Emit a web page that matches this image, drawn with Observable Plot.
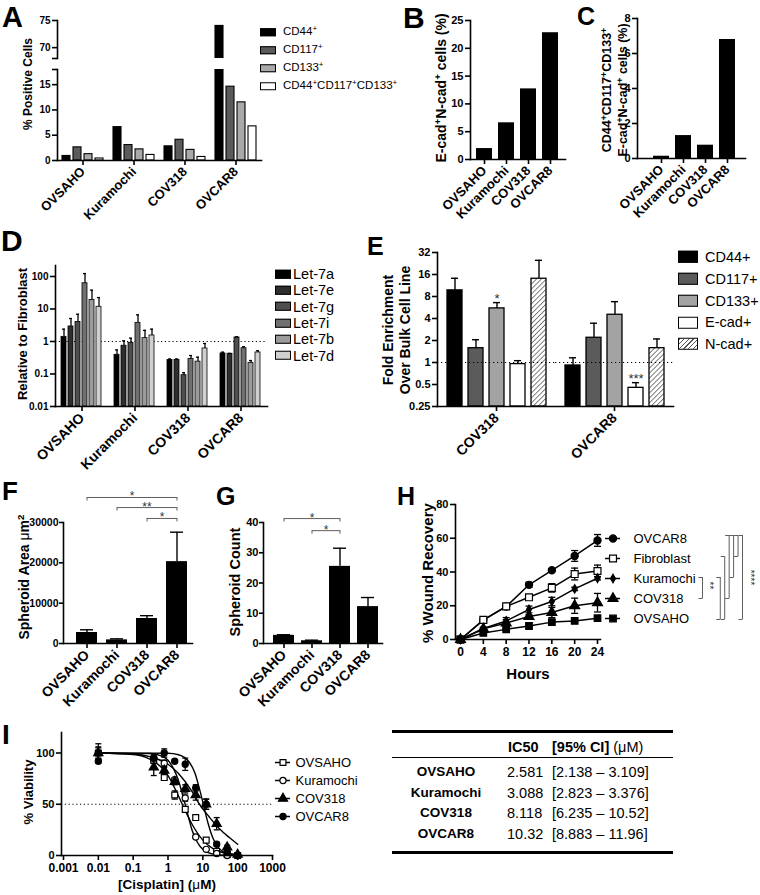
<!DOCTYPE html>
<html>
<head>
<meta charset="utf-8">
<title>Figure</title>
<script src="https://cdn.jsdelivr.net/npm/d3@7"></script>
<script src="https://cdn.jsdelivr.net/npm/@observablehq/plot@0.6"></script>
<style>
  html, body { margin: 0; padding: 0; background: #fff; }
  #fig { position: relative; width: 760px; height: 895px; overflow: hidden; background: #fff;
         font-family: "Liberation Sans", Arial, Helvetica, sans-serif; color: #000; }
  .letter { position: absolute; font-weight: bold; line-height: 1; }
  .ylab { position: absolute; font-weight: bold; white-space: nowrap; text-align: center;
          transform: translate(-50%, -50%) rotate(-90deg); }
  .xlab { position: absolute; font-weight: bold; white-space: nowrap; transform: translate(-50%, -50%); line-height: 1; }
  .legrow { position: absolute; display: flex; align-items: center; white-space: nowrap; transform: translateY(-50%); line-height: 1; }
  .sw { display: inline-block; box-sizing: border-box; border: 1.3px solid #000; flex: none; }
  .sup { font-size: 0.7em; position: relative; top: -0.5em; }
  .rule { position: absolute; background: #000; }
  .cell { position: absolute; white-space: nowrap; transform: translateY(-50%); line-height: 1; }
</style>
</head>
<body>
<svg width="0" height="0" style="position:absolute;left:0;top:0">
  <defs>
    <pattern id="hatch" patternUnits="userSpaceOnUse" width="3.5" height="3.5" patternTransform="rotate(45)">
      <rect width="3.5" height="3.5" fill="#fff"></rect>
      <line x1="0" y1="0" x2="0" y2="3.5" stroke="#555" stroke-width="1.5"></line>
    </pattern>
  </defs>
</svg>
<div id="fig"></div>
<script>
// ================= DATA =================
const cellLines = ["OVSAHO", "Kuramochi", "COV318", "OVCAR8"];

// Panel A
const markersA = ["CD44+", "CD117+", "CD133+", "CD44+CD117+CD133+"];
const cd44A   = [0.9, 6.6, 2.8, 74.0];
const cd117A  = [2.6, 3.05, 4.1, 14.6];
const cd133A  = [1.25, 2.2, 2.1, 11.5];
const tripleA = [0.4, 1.1, 0.7, 6.75];
const ticksALow = [0, 5, 10, 15];
const ticksAHigh = [70, 75];
const domainALow = [0, 18];
const domainAHigh = [68, 75];

// Panel B
const ecadNcadB = [1.97, 6.6, 12.7, 22.8];
const ticksB = [0, 5, 10, 15, 20, 25];

// Panel C
const allPosC = [0.13, 1.31, 0.76, 6.8];
const ticksC = [0, 2, 4, 6, 8];

// Panel D (mean, upper error)
const mirD = ["Let-7a", "Let-7e", "Let-7g", "Let-7i", "Let-7b", "Let-7d"];
const let7aD = [1.39, 0.39, 0.27, 0.43], let7aHiD = [2.4, 0.55, 0.29, 0.47];
const let7eD = [2.9, 0.74, 0.27, 0.42],  let7eHiD = [5.1, 1.05, 0.29, 0.43];
const let7gD = [4.0, 0.91, 0.092, 1.33], let7gHiD = [6.9, 1.27, 0.11, 1.39];
const let7iD = [62, 3.75, 0.29, 0.62],   let7iHiD = [123, 6.6, 0.37, 0.69];
const let7bD = [19, 1.27, 0.24, 0.22],   let7bHiD = [38, 2.2, 0.33, 0.26];
const let7dD = [11.7, 1.53, 0.61, 0.46], let7dHiD = [22.5, 2.4, 0.87, 0.52];
const ticksD = [0.01, 0.1, 1, 10, 100];
const domainD = [0.01, 218];
const refD = 1;

// Panel E (mean, upper error)
const linesE = ["COV318", "OVCAR8"];
const markersE = ["CD44+", "CD117+", "CD133+", "E-cad+", "N-cad+"];
const cd44E = [9.7, 0.91],  cd44HiE = [14.2, 1.16];
const cd117E = [1.57, 2.18], cd117HiE = [2.05, 3.45];
const cd133E = [5.5, 4.5],  cd133HiE = [6.6, 6.8];
const ecadE = [0.95, 0.45], ecadHiE = [1.06, 0.53];
const ncadE = [14, 1.57],   ncadHiE = [25, 2.1];
const starLinesE = ["COV318", "OVCAR8"];
const starMarkersE = ["CD133+", "E-cad+"];
const starTextE = ["*", "***"];
const ticksE = [0.25, 0.5, 1, 2, 4, 8, 16, 32];
const domainE = [0.25, 32];
const refE = 1;

// Panel F
const areaF = [2730, 900, 6200, 20300];
const areaHiF = [3400, 1150, 6900, 27600];
const ticksF = [0, 10000, 20000, 30000];
const sigFromF = ["OVSAHO", "Kuramochi", "COV318"];
const sigToF = ["OVCAR8", "OVCAR8", "OVCAR8"];
const sigLevelF = [36200, 33700, 31000];
const sigTextF = ["*", "**", "*"];

// Panel G
const countG = [2.7, 0.9, 25.5, 12.2];
const countHiG = [2.9, 1.1, 31.5, 15.2];
const ticksG = [0, 10, 20, 30, 40];
const sigFromG = ["OVSAHO", "Kuramochi"];
const sigToG = ["COV318", "COV318"];
const sigLevelG = [41.3, 37.3];
const sigTextG = ["*", "*"];

// Panel H
const hours = [0, 4, 8, 12, 16, 20, 24];
const seriesH = ["OVCAR8", "Fibroblast", "Kuramochi", "COV318", "OVSAHO"];
const ovcar8H = [0, 11.5, 19.5, 32.4, 41, 49.5, 58.7];
const ovcar8ErrH = [0, 1, 1, 1.5, 1, 3.2, 3.5];
const fibroH = [0, 11.6, 19.6, 25, 30.6, 38.8, 40.6];
const fibroErrH = [0, 1, 1, 1, 2.5, 3.5, 3.5];
const kuraH = [0, 6.5, 11, 17.8, 22.5, 30, 36.3];
const kuraErrH = [0, 0.5, 2, 2, 2.5, 1, 1];
const cov318H = [0, 6.3, 9.8, 13.6, 16, 20, 21.8];
const cov318ErrH = [0, 1, 2, 1, 3, 4.5, 5.5];
const ovsahoH = [0, 3.9, 6, 8, 10.3, 11, 12.6];
const ovsahoErrH = [0, 0.5, 0.5, 0.5, 1, 1, 1];
const ticksHx = [0, 4, 8, 12, 16, 20, 24];
const ticksHy = [0, 20, 40, 60, 80];
// significance brackets (from, to, level)
const brFromH = ["Kuramochi", "Kuramochi", "Fibroblast", "OVCAR8", "OVCAR8", "OVCAR8", "OVCAR8"];
const brToH   = ["COV318", "OVSAHO", "OVSAHO", "COV318", "Kuramochi", "Fibroblast", "OVSAHO"];
const brLevelH = [-4, 0, 1, 2, 3, 4, 5];
const brTextH  = ["**", "", "", "", "", "", "****"];

// Panel I
const dosesI = [0.01, 0.39, 0.78, 1.56, 3.125, 6.25, 12.5, 25, 50, 100];
const seriesI = ["OVSAHO", "Kuramochi", "COV318", "OVCAR8"];
const ovsahoI = [100, 93, 76, 59, 45, 37, 15, 4, 1, 0];
const ovsahoErrI = [9, 3, 2, 4, 2, 2, 1, 1, 0, 0];
const kuraI = [100, 95, 90, 74, 56, 18, 6, 2, 0, 0];
const kuraErrI = [5, 3, 3, 2, 3, 1, 1, 0, 0, 0];
const cov318I = [100, 86, 83, 72, 65, 59, 50, 31, 8, 1];
const cov318ErrI = [6, 8, 3, 3, 4, 5, 5, 6, 2, 0];
const ovcar8I = [92, 95, 100, 92, 89, 66, 50, 11, 3, 0];
const ovcar8ErrI = [2, 3, 4, 1, 6, 3, 5, 2, 1, 0];
// fitted dose-response curves
const ovsahoFitC = [0.01, 0.1, 0.3, 0.6, 1, 2, 3, 5, 10, 20, 50, 100];
const ovsahoFitV = [100, 98.5, 94, 87, 78, 58, 45, 30, 15, 6.5, 2, 1];
const kuraFitC = [0.01, 0.3, 0.6, 1, 2, 3, 5, 10, 20, 50, 100];
const kuraFitV = [100, 99.5, 97.5, 93, 73, 52, 24, 6, 1.3, 0.2, 0];
const cov318FitC = [0.01, 0.1, 0.3, 1, 2, 5, 8, 15, 30, 60, 100];
const cov318FitV = [100, 99, 96.5, 89, 80, 62, 50, 38, 26, 17, 11];
const ovcar8FitC = [0.01, 1, 2, 4, 6, 8, 10, 14, 20, 30, 50, 100];
const ovcar8FitV = [100, 99.7, 98.3, 91.5, 80, 65, 52, 32, 16, 6.5, 2, 0.3];
const ticksIx = [0.001, 0.01, 0.1, 1, 10, 100, 1000];
const ticksIy = [0, 50, 100];
const refI = 50;

// IC50 table
const ic50Lines = ["OVSAHO", "Kuramochi", "COV318", "OVCAR8"];
const ic50 = ["2.581", "3.088", "8.118", "10.32"];
const ciLow = ["2.138", "2.823", "6.235", "8.883"];
const ciHigh = ["3.109", "3.376", "10.52", "11.96"];

// ================= HELPERS =================
const FONT = '"Liberation Sans", Arial, Helvetica, sans-serif';
const AX = 1.6;
const STAR = "#333";
const GRAY = "#5e5e5e";
const fig = document.getElementById("fig");
function place(node, left, top) {
  node.style.position = "absolute";
  node.style.left = left + "px";
  node.style.top = top + "px";
  fig.appendChild(node);
  return node;
}
function addDiv(cls, inner, css) {
  const e = document.createElement("div");
  e.className = cls;
  e.innerHTML = inner;
  e.style.cssText += css;
  fig.appendChild(e);
  return e;
}
const sup = s => s.replace(/\+/g, '<span class="sup">+</span>');
function st(fs, weight = "bold") {
  return {fontFamily: FONT, fontSize: fs + "px", fontWeight: weight, background: "transparent", overflow: "visible", color: "#000"};
}
const fmt = d => String(d);
function axisLeft(ticks, fs, extra = {}) {
  return Plot.axisY({ticks, tickFormat: fmt, tickSize: 5, tickPadding: 2, strokeWidth: AX, fontSize: fs, label: null, ...extra});
}
function catAxis(fs, facet) {
  const o = {anchor: "bottom", tickRotate: -45, tickSize: 5, tickPadding: 4, fontSize: fs, strokeWidth: AX, label: null};
  return facet ? Plot.axisFx(o) : Plot.axisX(o);
}
const hline = {draw(ctx, size) { const r = Math.sqrt(size / Math.PI); ctx.moveTo(-r, 0); ctx.lineTo(r, 0); }};
const vdown = {draw(ctx, size) { const r = Math.sqrt(size / Math.PI); ctx.moveTo(0, 0); ctx.lineTo(0, r); }};

// ================= PANEL A =================
const valsA = [cd44A, cd117A, cd133A, tripleA];
const rowsA = cellLines.flatMap((line, i) => markersA.map((marker, k) => ({line, marker, value: valsA[k][i]})));
const fillA = ["#000000", "#5b5b5b", "#a9a9a9", "#ffffff"];
const barA = () => Plot.barY(rowsA, {fx: "line", x: "marker", y: "value", fill: "marker", stroke: "#000", strokeWidth: 1.1, clip: true});

place(Plot.plot({
  width: 272, height: 50, marginLeft: 55, marginRight: 10, marginTop: 10, marginBottom: 2,
  style: st(10),
  fx: {domain: cellLines, padding: 0, axis: null},
  x: {domain: markersA, paddingInner: 0.3, paddingOuter: 0.36, axis: null},
  y: {domain: domainAHigh},
  color: {domain: markersA, range: fillA},
  marks: [
    barA(),
    Plot.frame({anchor: "left", facet: "super", strokeWidth: AX}),
    axisLeft(ticksAHigh, 10),
    axisLeft([domainAHigh[0]], 10, {tickFormat: () => ""})
  ]
}), 0, 10);

place(Plot.plot({
  width: 272, height: 170, marginLeft: 55, marginRight: 10, marginTop: 9, marginBottom: 70,
  style: st(10),
  fx: {domain: cellLines, padding: 0},
  x: {domain: markersA, paddingInner: 0.3, paddingOuter: 0.36, axis: null},
  y: {domain: domainALow},
  color: {domain: markersA, range: fillA},
  marks: [
    barA(),
    Plot.frame({anchor: "left", facet: "super", strokeWidth: AX}),
    Plot.frame({anchor: "bottom", facet: "super", strokeWidth: AX}),
    axisLeft(ticksALow, 10),
    axisLeft([domainALow[1]], 10, {tickFormat: () => ""}),
    catAxis(13, true)
  ]
}), 0, 60);

// ================= PANEL B / C =================
function simpleBars(values, ticks, domain, fs, w, mL, mR, hFrame, insL, insR) {
  const rows = cellLines.map((line, i) => ({line, value: values[i]}));
  return Plot.plot({
    width: w, height: 10 + hFrame + 75, marginLeft: mL, marginRight: mR, marginTop: 10, marginBottom: 75,
    style: st(fs),
    x: {domain: cellLines, paddingInner: 0.28, paddingOuter: 0.14, insetLeft: insL, insetRight: insR},
    y: {domain},
    marks: [
      Plot.barY(rows, {x: "line", y: "value", fill: "#000"}),
      Plot.frame({anchor: "left", strokeWidth: AX}),
      Plot.frame({anchor: "bottom", strokeWidth: AX}),
      axisLeft(ticks, fs),
      catAxis(13, false)
    ]
  });
}
place(simpleBars(ecadNcadB, ticksB, [0, 25], 11, 155, 50, 10, 139, 1.8, 3.8), 420, 10);
place(simpleBars(allPosC, ticksC, [0, 8], 11, 155, 37, 10, 140, 11.6, 5.6), 600, 8);

// ================= PANEL D =================
const valsD = [let7aD, let7eD, let7gD, let7iD, let7bD, let7dD];
const hisD = [let7aHiD, let7eHiD, let7gHiD, let7iHiD, let7bHiD, let7dHiD];
const rowsD = cellLines.flatMap((line, i) => mirD.map((mir, k) => ({line, mir, value: valsD[k][i], hi: hisD[k][i]})));
const fillD = ["#000000", "#2e2e2e", "#4e4e4e", "#707070", "#9b9b9b", "#d0d0d0"];
place(Plot.plot({
  width: 275, height: 221, marginLeft: 54, marginRight: 7, marginTop: 10, marginBottom: 70,
  style: st(10),
  fx: {domain: cellLines, padding: 0},
  x: {domain: mirD, paddingInner: 0.22, paddingOuter: 0.54, axis: null},
  y: {type: "log", domain: domainD},
  color: {domain: mirD, range: fillD},
  marks: [
    Plot.ruleY([refD], {stroke: "#000", strokeWidth: 1.2, strokeDasharray: "1.2,2.6"}),
    Plot.barY(rowsD, {fx: "line", x: "mir", y1: domainD[0], y2: "value", fill: "mir", stroke: "#000", strokeWidth: 0.8}),
    Plot.ruleX(rowsD, {fx: "line", x: "mir", y1: "value", y2: "hi", strokeWidth: 1.3}),
    Plot.tickY(rowsD, {fx: "line", x: "mir", y: "hi", strokeWidth: 1.3, insetLeft: 1, insetRight: 1}),
    Plot.frame({anchor: "left", facet: "super", strokeWidth: AX}),
    Plot.frame({anchor: "bottom", facet: "super", strokeWidth: AX}),
    axisLeft(ticksD, 10),
    catAxis(14, true)
  ]
}), 0, 255);

// ================= PANEL E =================
const valsE = [cd44E, cd117E, cd133E, ecadE, ncadE];
const hisE = [cd44HiE, cd117HiE, cd133HiE, ecadHiE, ncadHiE];
const rowsE = linesE.flatMap((line, i) => markersE.map((marker, k) => ({line, marker, value: valsE[k][i], hi: hisE[k][i]})));
const starsE = starLinesE.map((line, j) => {
  const r = rowsE.find(d => d.line === line && d.marker === starMarkersE[j]);
  return {line, marker: starMarkersE[j], hi: r.hi, t: starTextE[j]};
});
const fillE = ["#000000", "#5b5b5b", "#a3a3a3", "#ffffff", "url(#hatch)"];
place(Plot.plot({
  width: 318, height: 229, marginLeft: 77, marginRight: 5, marginTop: 10, marginBottom: 65,
  style: st(11),
  fx: {domain: linesE, padding: 0},
  x: {domain: markersE, paddingInner: 0.286, paddingOuter: 0.45, axis: null},
  y: {type: "log", base: 2, domain: domainE},
  color: {domain: markersE, range: fillE},
  marks: [
    Plot.ruleX(rowsE, {fx: "line", x: "marker", y1: "value", y2: "hi", strokeWidth: 1.4}),
    Plot.tickY(rowsE, {fx: "line", x: "marker", y: "hi", strokeWidth: 1.4, insetLeft: 4, insetRight: 4}),
    Plot.barY(rowsE, {fx: "line", x: "marker", y1: domainE[0], y2: "value", fill: "marker", stroke: "#000", strokeWidth: 1.3}),
    Plot.ruleY([refE], {stroke: "#000", strokeWidth: 1.2, strokeDasharray: "1.2,2.8"}),
    Plot.text(starsE, {fx: "line", x: "marker", y: "hi", text: "t", lineAnchor: "bottom", dy: 0, fontSize: 13, fontWeight: "normal", fill: STAR}),
    Plot.frame({anchor: "left", facet: "super", strokeWidth: AX}),
    Plot.frame({anchor: "bottom", facet: "super", strokeWidth: AX}),
    axisLeft(ticksE, 11),
    catAxis(14, true)
  ]
}), 360, 242);

// ================= PANEL F / G =================
function sigBars(values, his, ticks, domain, from, to, level, text, w, mL, mR, insL, insR, pIn, pOut, tickFs) {
  const rows = cellLines.map((line, i) => ({line, value: values[i], hi: his[i]}));
  const sig = from.map((a, k) => ({grp: "g" + k, a, b: to[k], y: level[k], t: text[k]}));
  const lines = sig.flatMap(s => [{grp: s.grp, x: s.a, y: s.y}, {grp: s.grp, x: s.b, y: s.y}]);
  const opts = xs => ({
    width: w, height: 226, marginLeft: mL, marginRight: mR, marginTop: 37, marginBottom: 68,
    style: st(11),
    x: {domain: cellLines, paddingInner: pIn, paddingOuter: pOut, insetLeft: insL, insetRight: insR},
    y: {domain},
    marks: [
      Plot.ruleX(rows, {x: "line", y1: "value", y2: "hi", strokeWidth: 1.4}),
      Plot.tickY(rows, {x: "line", y: "hi", strokeWidth: 1.4, insetLeft: 4, insetRight: 4}),
      Plot.barY(rows, {x: "line", y: "value", fill: "#000"}),
      Plot.line(lines, {x: "x", y: "y", z: "grp", stroke: GRAY, strokeWidth: 1}),
      Plot.dot(lines, {x: "x", y: "y", symbol: vdown, r: 3, stroke: GRAY, fill: "none", strokeWidth: 1}),
      ...(xs ? sig.map(s => Plot.text([s], {x: "a", y: "y", text: "t", dx: (xs.apply(s.b) - xs.apply(s.a)) / 2,
                                            lineAnchor: "bottom", dy: 3, fontSize: 12, fontWeight: "normal", fill: STAR})) : []),
      Plot.frame({anchor: "left", strokeWidth: AX}),
      Plot.frame({anchor: "bottom", strokeWidth: AX}),
      axisLeft(ticks, tickFs, {tickSize: 4, tickPadding: 1}),
      catAxis(14, false)
    ]
  });
  const first = Plot.plot(opts(null));
  return Plot.plot(opts(first.scale("x")));
}
place(sigBars(areaF, areaHiF, ticksF, [0, 30000], sigFromF, sigToF, sigLevelF, sigTextF, 200, 63, 8, 7.8, 0, 0.3, 0.15, 10.5), 0, 485);
place(sigBars(countG, countHiG, ticksG, [0, 40], sigFromG, sigToG, sigLevelG, sigTextG, 180, 53, 8, 6.5, 0.5, 0.25, 0.125, 11), 210, 485);

// ================= PANEL H =================
const meansH = [ovcar8H, fibroH, kuraH, cov318H, ovsahoH];
const errsH = [ovcar8ErrH, fibroErrH, kuraErrH, cov318ErrH, ovsahoErrH];
const rowsH = seriesH.flatMap((series, k) => hours.map((hour, i) => ({series, hour, value: meansH[k][i], err: errsH[k][i]})));
const errRowsH = rowsH.filter(d => d.err > 0);
const symH = ["circle", "square", "diamond", "triangle", "square"];
const fillH = ["#000", "#fff", "#000", "#000", "#000"];
const rH = [3.6, 3.9, 2.6, 3.7, 3.7];
place(Plot.plot({
  width: 225, height: 190, marginLeft: 75, marginRight: 5, marginTop: 10, marginBottom: 45,
  style: st(11),
  x: {domain: [0, 24], insetLeft: 5, insetRight: 3},
  y: {domain: [0, 80]},
  marks: [
    Plot.line(rowsH, {x: "hour", y: "value", z: "series", stroke: "#000", strokeWidth: 1.5}),
    Plot.ruleX(errRowsH, {x: "hour", y1: d => d.value - d.err, y2: d => d.value + d.err, strokeWidth: 1.3}),
    Plot.dot(errRowsH, {x: "hour", y: d => d.value + d.err, symbol: hline, r: 3.5, stroke: "#000", fill: "none", strokeWidth: 1.3}),
    Plot.dot(errRowsH, {x: "hour", y: d => d.value - d.err, symbol: hline, r: 3.5, stroke: "#000", fill: "none", strokeWidth: 1.3}),
    ...seriesH.map((s, k) => Plot.dot(rowsH, {filter: d => d.series === s, x: "hour", y: "value", symbol: symH[k], r: rH[k], fill: fillH[k], stroke: "#000", strokeWidth: 1.2})),
    Plot.frame({anchor: "left", strokeWidth: AX}),
    Plot.frame({anchor: "bottom", strokeWidth: AX}),
    axisLeft(ticksHy, 11),
    Plot.axisX({ticks: ticksHx, tickFormat: fmt, tickSize: 5, tickPadding: 3, fontSize: 12, strokeWidth: AX, label: null})
  ]
}), 380, 494);

// H legend
place(Plot.plot({
  width: 105, height: 106, margin: 0,
  style: st(13, "normal"),
  x: {domain: [0, 1], range: [5, 20], axis: null},
  y: {type: "point", domain: seriesH, range: [13, 93], padding: 0, axis: null},
  marks: [
    Plot.ruleY(seriesH, {y: d => d, x1: 0, x2: 1, strokeWidth: 1.5}),
    ...seriesH.map((s, k) => Plot.dot([s], {x: 0.5, y: d => d, symbol: symH[k], r: rH[k], fill: fillH[k], stroke: "#000", strokeWidth: 1.2})),
    Plot.text(seriesH, {x: 1, y: d => d, text: d => d, dx: 13, textAnchor: "start"})
  ]
}), 600, 525);

// H significance brackets
const brH = brFromH.map((a, k) => ({a, b: brToH[k], lv: brLevelH[k], t: brTextH[k]}));
place(Plot.plot({
  width: 70, height: 106, margin: 0,
  style: st(10, "normal"),
  x: {domain: [-4, 5], range: [12, 52], axis: null},
  y: {type: "point", domain: seriesH, range: [10, 94], padding: 0, axis: null},
  marks: [
    Plot.ruleX(brH, {x: "lv", y1: "a", y2: "b", stroke: GRAY, strokeWidth: 1}),
    Plot.dot(brH, {x: "lv", y: "a", symbol: hline, r: 2, dx: -2, stroke: GRAY, fill: "none", strokeWidth: 1}),
    Plot.dot(brH, {x: "lv", y: "b", symbol: hline, r: 2, dx: -2, stroke: GRAY, fill: "none", strokeWidth: 1}),
    Plot.text(brH.filter(d => d.t === "**"), {x: "lv", y: () => "Kuramochi", text: "t", rotate: 90, dx: 7, dy: 8, fill: STAR}),
    Plot.text(brH.filter(d => d.t === "****"), {x: "lv", y: () => "Kuramochi", text: "t", rotate: 90, dx: 8, dy: 0, fill: STAR})
  ]
}), 690, 525);

// ================= PANEL I =================
const meansI = [ovsahoI, kuraI, cov318I, ovcar8I];
const errsI = [ovsahoErrI, kuraErrI, cov318ErrI, ovcar8ErrI];
const rowsI = seriesI.flatMap((series, k) => dosesI.map((c, i) => ({series, c, value: meansI[k][i], err: errsI[k][i]})));
const errRowsI = rowsI.filter(d => d.err > 0);
const fitC = [ovsahoFitC, kuraFitC, cov318FitC, ovcar8FitC];
const fitV = [ovsahoFitV, kuraFitV, cov318FitV, ovcar8FitV];
const fitRows = seriesI.flatMap((series, k) => fitC[k].map((c, i) => ({series, c, v: fitV[k][i]})));
const symI = ["square", "circle", "triangle", "circle"];
const fillI = ["#fff", "#fff", "#000", "#000"];
const rI = [3.3, 3.1, 3.4, 3.1];
place(Plot.plot({
  width: 280, height: 173, marginLeft: 61, marginRight: 8, marginTop: 10, marginBottom: 40,
  style: st(11),
  x: {type: "log", domain: [0.001, 1000], insetLeft: 2},
  y: {domain: [0, 120]},
  marks: [
    Plot.ruleY([refI], {stroke: "#000", strokeWidth: 1.2, strokeDasharray: "1.2,2.6"}),
    Plot.line(fitRows, {x: "c", y: "v", z: "series", curve: "monotone-x", stroke: "#000", strokeWidth: 1.4}),
    Plot.ruleX(errRowsI, {x: "c", y1: d => d.value - d.err, y2: d => d.value + d.err, strokeWidth: 1.3}),
    Plot.dot(errRowsI, {x: "c", y: d => d.value + d.err, symbol: hline, r: 3, stroke: "#000", fill: "none", strokeWidth: 1.3}),
    Plot.dot(errRowsI, {x: "c", y: d => d.value - d.err, symbol: hline, r: 3, stroke: "#000", fill: "none", strokeWidth: 1.3}),
    ...seriesI.map((s, k) => Plot.dot(rowsI, {filter: d => d.series === s, x: "c", y: "value", symbol: symI[k], r: rI[k], fill: fillI[k], stroke: "#000", strokeWidth: 1.2})),
    Plot.frame({anchor: "left", strokeWidth: AX}),
    Plot.frame({anchor: "bottom", strokeWidth: AX}),
    axisLeft(ticksIy, 11),
    Plot.axisX({ticks: ticksIx, tickFormat: fmt, tickSize: 5, tickPadding: 3, fontSize: 12, strokeWidth: AX, label: null})
  ]
}), 0, 722);

// I legend
place(Plot.plot({
  width: 130, height: 80, margin: 0,
  style: st(13, "normal"),
  x: {domain: [0, 1], range: [7, 22], axis: null},
  y: {type: "point", domain: seriesI, range: [11, 67], padding: 0, axis: null},
  marks: [
    Plot.ruleY(seriesI, {y: d => d, x1: 0, x2: 1, strokeWidth: 1.5}),
    ...seriesI.map((s, k) => Plot.dot([s], {x: 0.5, y: d => d, symbol: symI[k], r: rI[k], fill: fillI[k], stroke: "#000", strokeWidth: 1.2})),
    Plot.text(seriesI, {x: 1, y: d => d, text: d => d, dx: 5, textAnchor: "start"})
  ]
}), 268, 750);

// ================= HTML LEGENDS =================
function legendHTML(items, left, top0, step, swW, swH, gap, fs, fills, useSup) {
  items.forEach((label, i) => {
    addDiv("legrow",
      `<span class="sw" style="width:${swW}px;height:${swH}px;background:${fills[i]};margin-right:${gap}px"></span><span>${useSup ? sup(label) : label}</span>`,
      `left:${left}px;top:${top0 + i * step}px;font-size:${fs}px;`);
  });
}
legendHTML(markersA, 260, 32, 18, 16, 8, 7, 11.5, fillA, true);
legendHTML(mirD, 275, 274, 16.3, 16, 9, 2, 14.5, fillD, false);
legendHTML(markersE, 678, 257, 21.8, 20, 12, 7, 14.5,
  ["#000", "#5b5b5b", "#a3a3a3", "#fff", "repeating-linear-gradient(135deg,#555 0 1.1px,#fff 1.1px 3.3px)"], false);

// ================= AXIS TITLES =================
addDiv("ylab", "% Positive Cells", "left:27.5px;top:84px;font-size:12px;");
addDiv("ylab", sup("E-cad+N-cad+") + " cells (%)", "left:441px;top:88px;font-size:14px;");
addDiv("ylab", sup("CD44+CD117+CD133+") + "<br>" + sup("E-cad+N-cad+") + " cells (%)", "left:616px;top:90px;font-size:12.5px;line-height:15px;");
addDiv("ylab", "Relative to Fibroblast", "left:22px;top:334px;font-size:13px;");
addDiv("ylab", "Fold Enrichment<br>Over Bulk Cell Line", "left:397px;top:330px;font-size:14px;line-height:17px;");
addDiv("ylab", 'Spheroid Area <span style="font-weight:normal">μ</span>m<span class="sup">2</span>', "left:24px;top:577px;font-size:14px;");
addDiv("ylab", "Spheroid Count", "left:235px;top:582px;font-size:14.5px;");
addDiv("ylab", "% Wound Recovery", "left:427px;top:573px;font-size:15px;");
addDiv("xlab", "Hours", "left:528px;top:673px;font-size:15px;");
addDiv("ylab", "% Viability", "left:28px;top:792px;font-size:13px;");
addDiv("xlab", '[Cisplatin] (<span style="font-weight:normal">μ</span>M)', "left:167px;top:885px;font-size:13.5px;");

// ================= PANEL LETTERS =================
[["A", 2, 1, 29], ["B", 403, 1, 30], ["C", 577, 2, 25], ["D", 1, 224, 30], ["E", 367, 232, 25],
 ["F", 2, 477, 26], ["G", 216, 482, 25], ["H", 397, 482, 25], ["I", 2, 719, 28]]
  .forEach(([t, x, y, fs]) => addDiv("letter", t, `left:${x}px;top:${y}px;font-size:${fs}px;line-height:1.15;`));

// ================= IC50 TABLE =================
addDiv("rule", "", "left:392px;top:730px;width:281px;height:2.5px;");
addDiv("rule", "", "left:392px;top:757px;width:281px;height:1.3px;");
addDiv("rule", "", "left:392px;top:851px;width:281px;height:2.5px;");
addDiv("cell", "IC50", "left:508px;top:747px;font-size:14.5px;font-weight:bold;");
addDiv("cell", '[95% CI] <span style="font-weight:normal">(μM)</span>', "left:552px;top:747px;font-size:14.5px;font-weight:bold;");
const rowYs = [772, 793, 813, 834];
ic50Lines.forEach((line, i) => {
  addDiv("cell", line, `left:396px;width:100px;text-align:center;top:${rowYs[i]}px;font-size:13.5px;font-weight:bold;`);
  addDiv("cell", ic50[i], `left:507px;top:${rowYs[i]}px;font-size:14.5px;`);
  addDiv("cell", `[${ciLow[i]} – ${ciHigh[i]}]`, `left:552px;top:${rowYs[i]}px;font-size:14.5px;`);
});
</script>
</body>
</html>
